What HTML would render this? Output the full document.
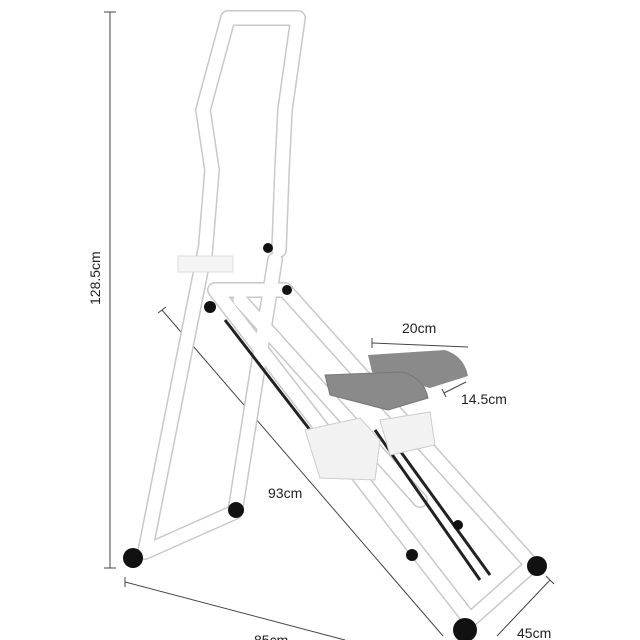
<!DOCTYPE html><html><head><style>body{margin:0;background:#fff}svg{display:block}text{font-family:"Liberation Sans",sans-serif;fill:#222}</style></head><body>
<svg width="640" height="640" viewBox="0 0 640 640">
<g stroke="#444" stroke-width="1" fill="none">
<line x1="110" y1="12" x2="110" y2="568"/><line x1="104" y1="12" x2="116" y2="12"/><line x1="104" y1="568" x2="116" y2="568"/>
<line x1="125" y1="582" x2="345" y2="640"/><line x1="125" y1="577" x2="125" y2="587"/>
<line x1="162" y1="310" x2="443" y2="636"/><line x1="158" y1="313" x2="166" y2="307"/>
<line x1="497" y1="636" x2="550" y2="580"/><line x1="546" y1="576" x2="554" y2="584"/>
<line x1="372" y1="343" x2="468" y2="347"/><line x1="372" y1="338" x2="372" y2="348"/>
<line x1="444" y1="393" x2="466" y2="382"/><line x1="442" y1="389" x2="446" y2="397"/>
</g>
<text x="0" y="0" font-size="14" transform="translate(100,305) rotate(-90)">128.5cm</text>
<text x="402" y="333" font-size="14">20cm</text>
<text x="461" y="404" font-size="14">14.5cm</text>
<text x="268" y="498" font-size="14">93cm</text>
<text x="254" y="645" font-size="14">85cm</text>
<text x="517" y="638" font-size="14">45cm</text>
<g fill="none" stroke-linecap="round" stroke-linejoin="round">
<g stroke="#c8c8c8" stroke-width="16">
<path d="M205 255 L212 170 L203 110 L228 18 L298 18 L285 110 L282 170 L279 250"/>
<path d="M205 250 L145 552 L235 512 L275 260"/>
<path d="M215 290 L470 620 L532 565 L285 290 Z"/>
<path d="M240 300 L420 500"/>
</g>
<g stroke="#fff" stroke-width="13">
<path d="M205 255 L212 170 L203 110 L228 18 L298 18 L285 110 L282 170 L279 250"/>
<path d="M205 250 L145 552 L235 512 L275 260"/>
<path d="M215 290 L470 620 L532 565 L285 290 Z"/>
<path d="M240 300 L420 500"/>
</g>
</g>
<g stroke="#222" stroke-width="3"><line x1="225" y1="320" x2="310" y2="430"/><line x1="375" y1="430" x2="480" y2="580"/><line x1="385" y1="430" x2="490" y2="575"/></g>
<path d="M305 430 L360 418 L380 440 L375 480 L320 478 Z" fill="#f2f2f2" stroke="#ccc"/>
<path d="M380 420 L430 412 L435 445 L390 455 Z" fill="#f2f2f2" stroke="#ccc"/>
<path d="M368 355 L445 350 Q464 356 468 376 L430 388 L372 372 Z" fill="#8a8a8a"/>
<path d="M325 375 L402 372 Q424 378 428 398 L388 410 L330 395 Z" fill="#8a8a8a" stroke="#777"/>
<g fill="#111"><circle cx="133" cy="558" r="10"/><circle cx="236" cy="510" r="8"/><circle cx="465" cy="630" r="12"/><circle cx="537" cy="566" r="10"/><circle cx="412" cy="555" r="6"/><circle cx="458" cy="525" r="5"/><circle cx="210" cy="307" r="6"/><circle cx="193" cy="262" r="5"/><circle cx="268" cy="248" r="5"/><circle cx="287" cy="290" r="5"/></g>
<rect x="178" y="256" width="55" height="16" fill="#f5f5f5" stroke="#ddd"/>
</svg></body></html>
